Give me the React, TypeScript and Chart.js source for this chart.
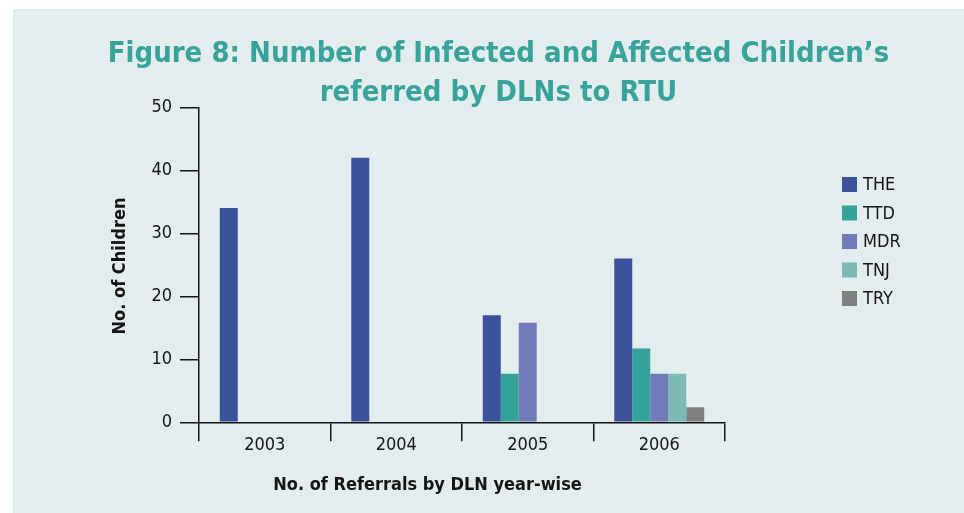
import React, { useEffect, useRef } from "react";
import { Chart, registerables } from "chart.js";

Chart.register(...registerables);

// Years on the x axis
const years = ["2003", "2004", "2005", "2006"];

// Referrals per district (one series per district)
const theValues = [34, 42, 17, 26];
const ttdValues = [0, 0, 7.7, 11.7];
const mdrValues = [0, 0, 15.8, 7.7];
const tnjValues = [0, 0, 0, 7.7];
const tryValues = [0, 0, 0, 2.4];

const seriesNames = ["THE", "TTD", "MDR", "TNJ", "TRY"];
const seriesColors = ["#3a529c", "#35a39a", "#717bb8", "#7bbab5", "#7f7f7f"];

const yTicks = [0, 10, 20, 30, 40, 50];

const titleLines = ["Figure 8: Number of Infected and Affected Children’s", "referred by DLNs to RTU"];
const yTitle = "No. of Children";
const xTitle = "No. of Referrals by DLN year-wise";

const FONT = "'DejaVu Sans Condensed', 'DejaVu Sans', sans-serif";
const PANEL_BG = "#e3eded";
const TITLE_COLOR = "#37a39a";
const INK = "#151515";

const W = 951;
const H = 504;
const AREA = { left: 186, right: 712, top: 98.3, bottom: 413.3 };

// Draws the heading, axis titles and the legend column on the right
const decorations = {
  id: "decorations",
  afterDraw(chart: any) {
    const ctx = chart.ctx as CanvasRenderingContext2D;
    ctx.save();
    ctx.fillStyle = TITLE_COLOR;
    ctx.font = `bold 29px ${FONT}`;
    ctx.textAlign = "center";
    ctx.textBaseline = "alphabetic";
    ctx.fillText(titleLines[0], 485.5, 53);
    ctx.fillText(titleLines[1], 485.5, 92);

    ctx.fillStyle = INK;
    ctx.font = `bold 18px ${FONT}`;
    ctx.fillText(xTitle, 414.5, 481);

    ctx.save();
    ctx.translate(112, 257);
    ctx.rotate(-Math.PI / 2);
    ctx.textBaseline = "alphabetic";
    ctx.fillText(yTitle, 0, 0);
    ctx.restore();

    ctx.textAlign = "left";
    ctx.textBaseline = "middle";
    ctx.font = `18px ${FONT}`;
    chart.data.datasets.forEach((ds: any, i: number) => {
      const cy = 175.5 + i * 28.5;
      ctx.fillStyle = ds.backgroundColor;
      ctx.fillRect(829, cy - 7.5, 15, 15);
      ctx.fillStyle = INK;
      ctx.fillText(ds.label, 850, cy + 1);
    });
    ctx.restore();
  },
};

export default function App() {
  const canvasRef = useRef<HTMLCanvasElement | null>(null);

  useEffect(() => {
    document.body.style.margin = "0";
    const canvas = canvasRef.current;
    if (!canvas) return;
    const values = [theValues, ttdValues, mdrValues, tnjValues, tryValues];
    const chart = new Chart(canvas, {
      type: "bar",
      data: {
        labels: years,
        datasets: seriesNames.map((name, i) => ({
          label: name,
          data: values[i],
          backgroundColor: seriesColors[i],
          borderWidth: 0,
          categoryPercentage: 0.684,
          barPercentage: 1,
        })),
      },
      options: {
        animation: false,
        responsive: false,
        maintainAspectRatio: false,
        devicePixelRatio: 1,
        layout: { padding: { top: AREA.top, right: W - AREA.right, left: 0, bottom: 0 } },
        plugins: {
          legend: { display: false },
          title: { display: false },
          tooltip: { enabled: false },
        },
        scales: {
          x: {
            grid: {
              offset: true,
              drawOnChartArea: false,
              drawTicks: true,
              tickLength: 19,
              color: INK,
              lineWidth: 1.5,
            },
            border: { display: true, color: INK, width: 1.5 },
            ticks: {
              color: INK,
              font: { family: FONT, size: 18 },
              padding: -7,
            },
            afterFit: (scale: any) => {
              scale.height = H - AREA.bottom;
            },
          },
          y: {
            min: 0,
            max: 50,
            afterBuildTicks: (scale: any) => {
              scale.ticks = yTicks.map((v) => ({ value: v }));
            },
            grid: {
              drawOnChartArea: false,
              drawTicks: true,
              tickLength: 19,
              color: INK,
              lineWidth: 1.5,
            },
            border: { display: true, color: INK, width: 1.5 },
            ticks: {
              color: INK,
              font: { family: FONT, size: 18 },
              padding: 8,
            },
            afterFit: (scale: any) => {
              scale.width = AREA.left;
            },
          },
        },
      },
      plugins: [decorations],
    });
    return () => chart.destroy();
  }, []);

  return (
    <div style={{ position: "absolute", left: 0, top: 0, width: 964, height: 513, background: "#ffffff" }}>
      <div style={{ position: "absolute", left: 13, top: 9, width: W, height: H, background: PANEL_BG }}>
        <canvas ref={canvasRef} width={W} height={H} style={{ display: "block", width: W, height: H }} />
      </div>
    </div>
  );
}
